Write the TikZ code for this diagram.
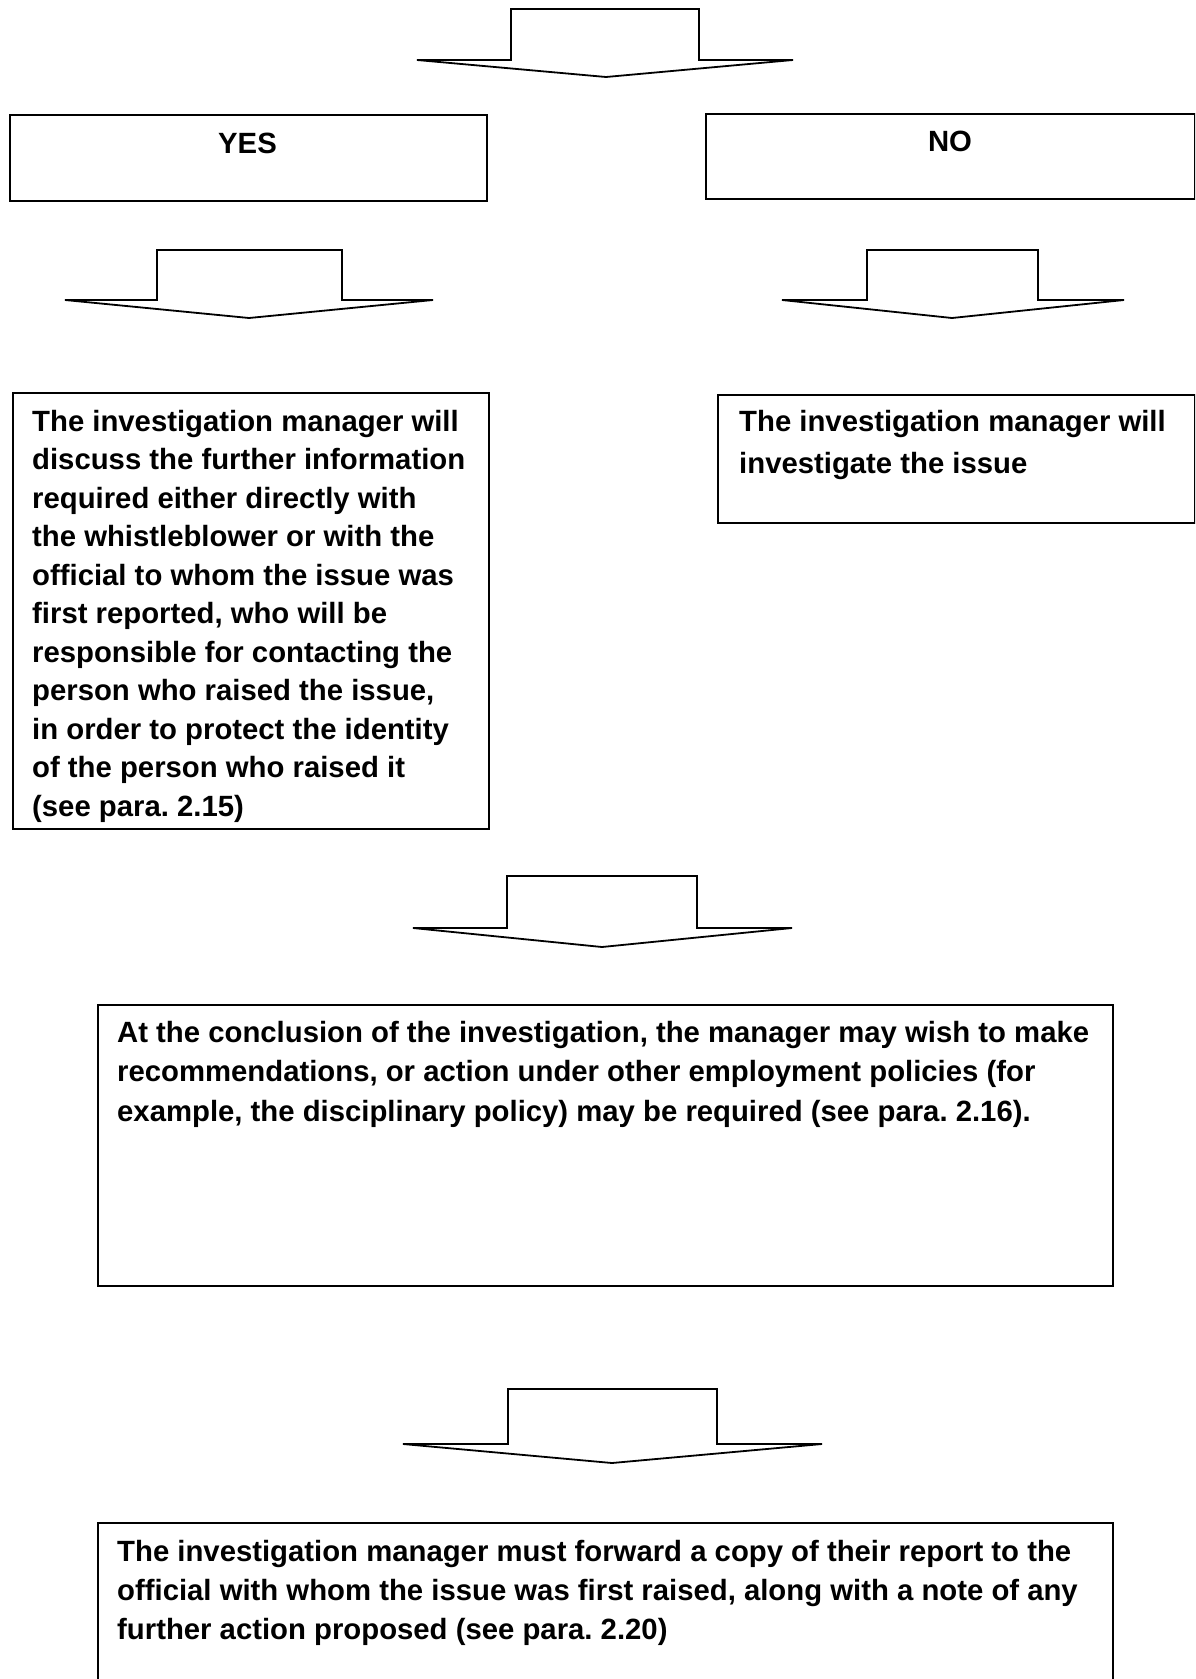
\documentclass[tikz,border=0pt]{standalone}
\usepackage{fontspec}
\setmainfont{Liberation Sans}
\frenchspacing
\tikzset{
  box/.style={draw=black, line width=1.8pt, fill=none, inner sep=0pt, anchor=north west},
  txt/.style={inner sep=0pt, align=left, anchor=north west, font=\fontsize{29.3}{38.5}\selectfont\bfseries},
  lbl/.style={inner sep=0pt, anchor=base, font=\fontsize{29.3}{38.5}\selectfont\bfseries},
  blockarrow/.style={draw=black, line width=1.8pt, fill=white}
}
\newcommand{\blkarrow}[8]{%
  \draw[blockarrow] (#5,#4) -- (#2,#4) -- (#2,#1) -- (#3,#1) -- (#3,#4) -- (#6,#4) -- (#7,#8) -- cycle;}
\newcommand{\fs}{\rule{0pt}{22pt}}
\begin{document}
\frenchspacing
\begin{tikzpicture}[x=1pt,y=-1pt]
\clip (0,0) rectangle (1195,1679);
\fill[white] (0,0) rectangle (1195,1679);

% top arrow
\blkarrow{9}{511}{699}{60}{417}{793}{606}{77}

% YES / NO boxes
\node[box, minimum width=477pt, minimum height=86pt] (yes) at (9,114) {};
\node[lbl] (yestxt) at (247.5,153) {YES};
\node[box, minimum width=489pt, minimum height=85pt] (no) at (705,113) {};
\node[lbl] (notxt) at (950,151) {NO};

% arrows below YES / NO
\blkarrow{250}{157}{342}{300}{65}{433}{249}{318}
\blkarrow{250}{867}{1038}{300}{782}{1124}{952}{318}

% left text box
\node[box, minimum width=476pt, minimum height=436pt] (left) at (12,392) {};
\node[txt] (lefttxt) at (32,409) {\fs The investigation manager will\\
discuss the further information\\
required either directly with\\
the whistleblower or with the\\
official to whom the issue was\\
first reported, who will be\\
responsible for contacting the\\
person who raised the issue,\\
in order to protect the identity\\
of the person who raised it\\
(see para. 2.15)};

% right text box
\node[box, minimum width=477pt, minimum height=128pt] (right) at (717,394) {};
\node[txt, font=\fontsize{29.3}{42.5}\selectfont\bfseries] (righttxt) at (739,409) {\fs The investigation manager will\\
investigate the issue};

% middle arrow
\blkarrow{876}{507}{697}{928}{413}{792}{602}{947}

% conclusion box
\node[box, minimum width=1015pt, minimum height=281pt] (concl) at (97,1004) {};
\node[txt, font=\fontsize{29.3}{39.5}\selectfont\bfseries] (concltxt) at (117,1020) {\fs At the conclusion of the investigation, the manager may wish to make\\
recommendations, or action under other employment policies (for\\
example, the disciplinary policy) may be required (see para. 2.16).};

% bottom arrow
\blkarrow{1389}{508}{717}{1444}{403}{822}{612}{1463}

% final box (runs off the page)
\node[box, minimum width=1015pt, minimum height=200pt] (final) at (97,1522) {};
\node[txt, font=\fontsize{29.3}{39}\selectfont\bfseries] (finaltxt) at (117,1539) {\fs The investigation manager must forward a copy of their report to the\\
official with whom the issue was first raised, along with a note of any\\
further action proposed (see para. 2.20)};
\end{tikzpicture}
\end{document}
